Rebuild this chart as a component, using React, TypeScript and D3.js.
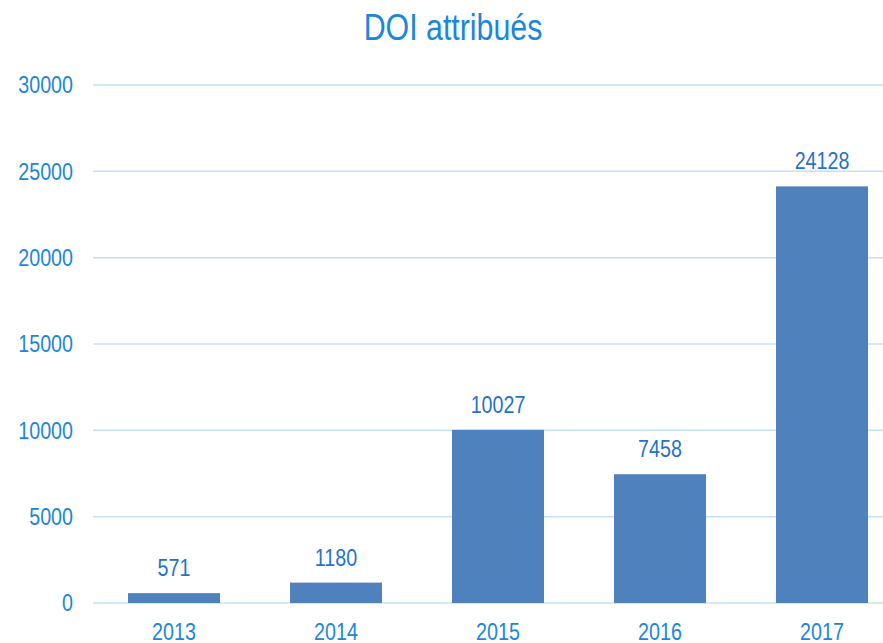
import React from "react";
import * as d3 from "d3";

const categories = ["2013", "2014", "2015", "2016", "2017"];
const values = [571, 1180, 10027, 7458, 24128];
const yTicks = [0, 5000, 10000, 15000, 20000, 25000, 30000];
const title = "DOI attribués";

const W = 883;
const H = 643;
const FONT = "'Liberation Sans', Arial, sans-serif";
const SX = 0.82;

function NText(props: { x: number; y: number; anchor: string; size: number; fill: string; children: React.ReactNode; dy?: string }) {
  return (
    <g transform={`translate(${props.x},${props.y}) scale(${SX},1)`}>
      <text x={0} y={0} dy={props.dy} textAnchor={props.anchor} fontFamily={FONT} fontSize={props.size} fill={props.fill}>
        {props.children}
      </text>
    </g>
  );
}

export default function App() {
  const x = d3.scaleBand<string>().domain(categories).range([93, 903]).paddingInner(0.432).paddingOuter(0.216);
  const y = d3.scaleLinear().domain([0, 30000]).range([603, 85]);
  return (
    <div style={{ position: "absolute", left: 0, top: 0 }}>
      <svg width={W} height={H} style={{ display: "block", background: "#fff" }}>
        <NText x={453} y={40} anchor="middle" size={37} fill="#1a86dc">{title}</NText>
        {yTicks.map((t) => (
          <g key={t}>
            <line x1={93} x2={W} y1={y(t)} y2={y(t)} stroke="#c6e0f7" strokeWidth={1.5} />
            <NText x={73} y={y(t)} dy="0.35em" anchor="end" size={24} fill="#1a86dc">{t}</NText>
          </g>
        ))}
        {categories.map((c, i) => {
          const bx = x(c)!;
          const bw = x.bandwidth();
          return (
            <g key={c}>
              <rect x={bx} y={y(values[i])} width={bw} height={y(0) - y(values[i])} fill="#4f81bd" />
              <NText x={bx + bw / 2} y={y(values[i]) - 17} anchor="middle" size={24} fill="#2672c4">{values[i]}</NText>
              <NText x={bx + bw / 2} y={640} anchor="middle" size={24} fill="#1a86dc">{c}</NText>
            </g>
          );
        })}
      </svg>
    </div>
  );
}
